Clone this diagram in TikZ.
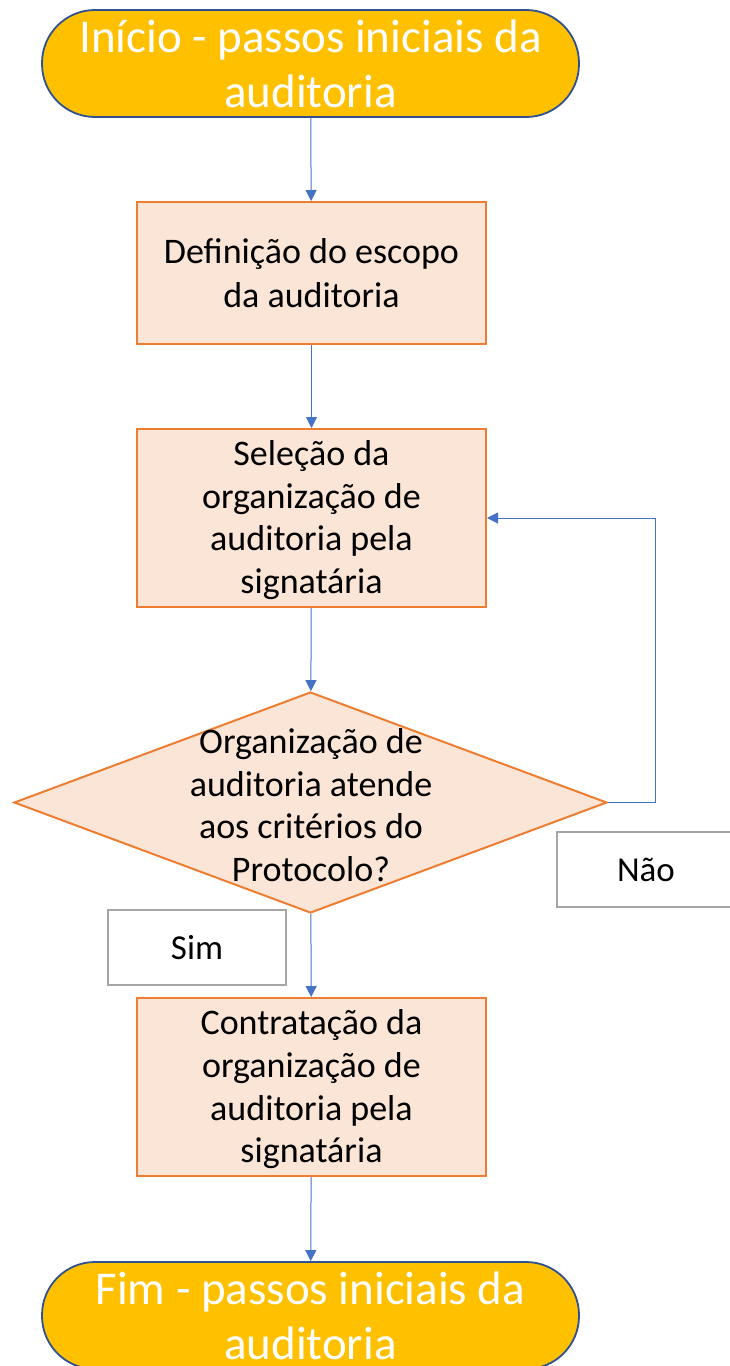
\documentclass[tikz,border=0pt]{standalone}
\usepackage{fontspec}
\setmainfont{Carlito}
\usetikzlibrary{arrows.meta,shapes.geometric}
\definecolor{termfill}{HTML}{FFC000}
\definecolor{termdraw}{HTML}{2F528F}
\definecolor{boxfill}{HTML}{FBE5D6}
\definecolor{boxdraw}{HTML}{ED7D31}
\definecolor{arrowc}{HTML}{4472C4}
\definecolor{lblgray}{HTML}{A6A6A6}
\tikzset{
  term/.style={draw=termdraw, fill=termfill, line width=1.8pt, rounded corners=53pt,
    minimum width=537pt, minimum height=107pt, inner sep=0pt, text=white, align=center,
    font=\fontsize{47}{55}\selectfont},
  procbox/.style={draw=boxdraw, fill=boxfill, line width=2pt, minimum width=349pt,
    inner sep=0pt, align=center, font=\fontsize{36}{43.7}\selectfont},
  decis/.style={draw=boxdraw, fill=boxfill, line width=2pt, diamond, shape aspect=2.683,
    inner sep=0pt, align=center},
  dectxt/.style={align=center, inner sep=0pt, font=\fontsize{36}{42.7}\selectfont},
  lbl/.style={draw=lblgray, fill=white, line width=1.6pt, minimum width=178pt, minimum height=75pt,
    inner sep=0pt, font=\fontsize{35}{40}\selectfont},
  conn/.style={draw=arrowc, line width=1pt, -{Triangle[length=11pt,width=11pt]}}
}
\begin{document}
\begin{tikzpicture}[x=1pt,y=-1pt]
\useasboundingbox[fill=white] (0,0) rectangle (730,1366);
\node[term] (start) at (310.5,63.5) {Início - passos iniciais da\\auditoria};
\node[procbox, minimum height=142pt] (def) at (311.5,273) {Definição do escopo\\da auditoria};
\node[procbox, minimum height=178pt] (sel) at (311.5,518) {};
\node[dectxt] (seltext) at (311.5,520) {Seleção da\\organização de\\auditoria pela\\signatária};
\node[decis, minimum width=593pt, minimum height=221pt] (dec) at (310.5,802.5) {};
\node[dectxt] (dectext) at (311,805) {Organização de\\auditoria atende\\aos critérios do\\Protocolo?};
\node[procbox, minimum height=178pt] (con) at (311.5,1087) {};
\node[dectxt] (context) at (311.5,1089.5) {Contratação da\\organização de\\auditoria pela\\signatária};
\node[term] (end) at (310.5,1315.5) {Fim - passos iniciais da\\auditoria};
\node[lbl] (nao) at (646,869.5) {Não};
\node[lbl] (sim) at (197,947.5) {Sim};
\coordinate (loopa) at (655,802.5);
\coordinate (loopb) at (655,518);
\draw[conn] (start) -- (def);
\draw[conn] (def) -- (sel);
\draw[conn] (sel) -- (dec);
\draw[conn] (dec) -- (con);
\draw[conn] (con) -- (end);
\draw[conn] (dec.east) -- (loopa) -- (loopb) -- (sel.east);
\end{tikzpicture}
\end{document}
